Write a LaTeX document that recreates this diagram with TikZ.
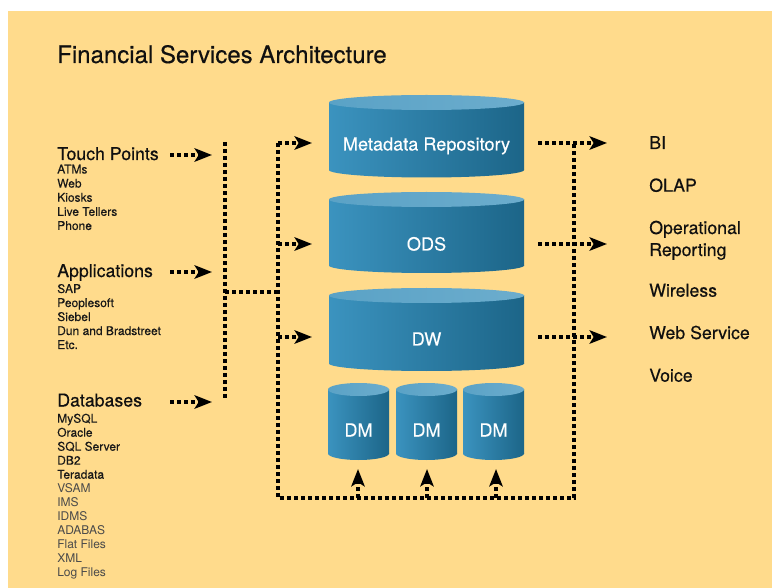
\documentclass[tikz,border=0pt]{standalone}
\usepackage{fontspec}
\setmainfont{TeX Gyre Heros}
\newfontfamily\heavyface[FakeBold=0.35]{TeX Gyre Heros}
\newfontfamily\midface[FakeBold=0.2]{TeX Gyre Heros}
\usetikzlibrary{arrows.meta}
\definecolor{bg}{HTML}{FFDB8C}
\definecolor{cylL}{HTML}{3B93BF}
\definecolor{cylR}{HTML}{1C6588}
\definecolor{topL}{HTML}{5AA2C6}
\definecolor{topM}{HTML}{DDEEF4}
\definecolor{topR}{HTML}{6CADCD}
\definecolor{ink}{HTML}{101010}
\definecolor{darkitem}{HTML}{181818}
\definecolor{lightitem}{HTML}{4A4A4A}
% cylinder: cx, top-ellipse centre y, bottom-ellipse centre y, rx, ry
\newcommand\dbcyl[5]{%
  \shade[bodyshade] ({#1-#4},#2) rectangle ({#1+#4},#3);
  \shade[bodyshade] (#1,#3) ellipse[x radius=#4, y radius=#5];
  \shade[topshade] (#1,#2) ellipse[x radius=#4, y radius=#5];
}
\begin{document}
\begin{tikzpicture}[x=0.75pt,y=-0.75pt,
  titlestyle/.style={anchor=base west, inner sep=0pt, text=ink, font=\heavyface\fontsize{18}{21}\selectfont},
  heading/.style={anchor=base west, inner sep=0pt, text=ink, font=\heavyface\fontsize{13.3}{16.5}\selectfont},
  item/.style={anchor=base west, inner sep=0pt, text=darkitem, font=\midface\fontsize{9}{10.5}\selectfont},
  lightitm/.style={anchor=base west, inner sep=0pt, text=lightitem, font=\fontsize{9}{10.5}\selectfont},
  cyltext/.style={anchor=base, inner sep=0pt, text=white, font=\midface\fontsize{13.6}{16}\selectfont},
  dots/.style={line width=2.8pt, dash pattern=on 2.7pt off 2.55pt, draw=black},
  dotarrow/.style={dots, -{Stealth[length=13pt,width=10pt,inset=3pt]}},
  bodyshade/.style={left color=cylL, right color=cylR},
  topshade/.style={left color=topL, middle color=topM, right color=topR}
]
\useasboundingbox (0,0) rectangle (772,588);
\fill[white] (0,0) rectangle (772,588);
\fill[bg] (8,11) rectangle (772,588);

% title
\node[titlestyle] (title) at (57,63) {Financial Services Architecture};

% left sources
\node[heading] (tp) at (57,160) {Touch Points};
\foreach \t [count=\i] in {ATMs,Web,Kiosks,Live Tellers,Phone}
  \node[item] (tp\i) at (57,{173.5+14.1*(\i-1)}) {\t};
\node[heading] (apps) at (57,277) {Applications};
\foreach \t [count=\i] in {SAP,Peoplesoft,Siebel,Dun and Bradstreet,Etc.}
  \node[item] (ap\i) at (57,{293+14*(\i-1)}) {\t};
\node[heading] (dbs) at (57,406.5) {Databases};
\foreach \t [count=\i] in {MySQL,Oracle,SQL Server,DB2,Teradata}
  \node[item] (db\i) at (57,{422.7+14*(\i-1)}) {\t};
\foreach \t [count=\i from 6] in {VSAM,IMS,IDMS,ADABAS,Flat Files,XML,Log Files}
  \node[lightitm] (db\i) at (57,{422.7+14*(\i-1)}) {\t};

% cylinders
\dbcyl{426.5}{102.5}{170}{97.5}{7.5}
\dbcyl{426.5}{199.5}{265.5}{97.5}{7.5}
\dbcyl{426.5}{295.5}{363.5}{97.5}{7.5}
\dbcyl{358.5}{389.5}{453.5}{30.5}{6.5}
\dbcyl{426.5}{389.5}{453.5}{30.5}{6.5}
\dbcyl{493.5}{389.5}{453.5}{30.5}{6.5}
\node[cyltext] (md) at (426.5,150.5) {Metadata Repository};
\node[cyltext] (ods) at (426.5,250.5) {ODS};
\node[cyltext] (dw) at (426.5,345.5) {DW};
\node[cyltext] (dm1) at (358.5,436.5) {DM};
\node[cyltext] (dm2) at (426.5,436.5) {DM};
\node[cyltext] (dm3) at (493.5,436.5) {DM};

% right targets
\node[heading] (bi) at (649,149) {BI};
\node[heading] (olap) at (649,191.7) {OLAP};
\node[heading] (op1) at (649,234) {Operational};
\node[heading] (op2) at (649,256) {Reporting};
\node[heading] (wl) at (649,296.7) {Wireless};
\node[heading] (ws) at (649,339) {Web Service};
\node[heading] (vc) at (649,381.7) {Voice};

% connector coordinates
\coordinate (tpS) at (170,155);  \coordinate (tpT) at (212,155);
\coordinate (apS) at (170,272);  \coordinate (apT) at (212,272);
\coordinate (dbS) at (170,402);  \coordinate (dbT) at (212,402);
\coordinate (v1t) at (225,142);  \coordinate (v1b) at (225,399);
\coordinate (h1a) at (225,292);  \coordinate (h1b) at (278,292);
\coordinate (v2t) at (278,143);  \coordinate (v2b) at (278,498);
\coordinate (v3t) at (574,143);  \coordinate (v3b) at (574,498);
\coordinate (v2o) at (278,244);  \coordinate (v2w) at (278,337);
\coordinate (inMD) at (312,143); \coordinate (inODS) at (312,244); \coordinate (inDW) at (312,337);
\coordinate (oMD) at (538,143);  \coordinate (oODS) at (538,244);  \coordinate (oDW) at (538,337);
\coordinate (tMD) at (607,143);  \coordinate (tODS) at (607,244);  \coordinate (tDW) at (607,337);
\coordinate (b1) at (358,498);   \coordinate (b2) at (427,498);    \coordinate (b3) at (496,498);
\coordinate (u1) at (358,469);   \coordinate (u2) at (427,469);    \coordinate (u3) at (496,469);

% connectors
\draw[dotarrow] (tpS) -- (tpT);
\draw[dotarrow] (apS) -- (apT);
\draw[dotarrow] (dbS) -- (dbT);
\draw[dots] (v1t) -- (v1b);
\draw[dots] (h1a) -- (h1b);
\draw[dots] (v2t) -- (v2b) -- (v3b) -- (v3t);
\draw[dotarrow] (v2t) -- (inMD);
\draw[dotarrow] (v2o) -- (inODS);
\draw[dotarrow] (v2w) -- (inDW);
\draw[dotarrow] (oMD) -- (tMD);
\draw[dotarrow] (oODS) -- (tODS);
\draw[dotarrow] (oDW) -- (tDW);
\draw[dotarrow] (b1) -- (u1);
\draw[dotarrow] (b2) -- (u2);
\draw[dotarrow] (b3) -- (u3);
\end{tikzpicture}
\end{document}
